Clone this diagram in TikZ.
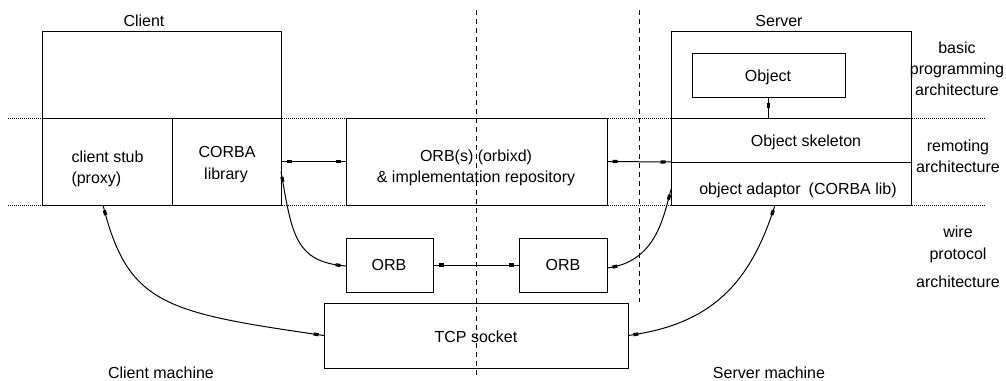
\documentclass[tikz,border=0pt]{standalone}
\usepackage{fontspec}
\setmainfont{Liberation Sans}
\usetikzlibrary{decorations.markings}

\begin{document}
\begin{tikzpicture}[x=1pt, y=-1pt, line width=1pt,
  box/.style={draw, line width=1pt, inner sep=0pt, outer sep=0pt, anchor=north west},
  lbl/.style={inner sep=0pt, anchor=base, font=\fontsize{16}{19}\selectfont},
  layerline/.style={line width=1pt, dash pattern=on 1pt off 1pt},
  divider/.style={line width=1pt, dash pattern=on 5pt off 4pt},
  blob/.style={},
  tagboth/.style={postaction={decorate}, decoration={markings,
     mark=at position 8pt with {\fill (-2.5pt,-1.6pt) rectangle (2.5pt,1.6pt);},
     mark=at position -8pt with {\fill (-2.5pt,-1.6pt) rectangle (2.5pt,1.6pt);}}},
  tagfirst/.style={postaction={decorate}, decoration={markings,
     mark=at position 8pt with {\fill (-2.5pt,-1.6pt) rectangle (2.5pt,1.6pt);}}}
]
\useasboundingbox (0,0) rectangle (1006,380);

% layer boundaries
\draw[layerline] (8,118) -- (985,118);
\draw[layerline] (8,205) -- (985,205);

% machine boundaries
\draw[divider] (476,10) -- (476,378);
\draw[divider] (639,10) -- (639,302);

% client side
\node[box, minimum width=239pt, minimum height=174pt] (client) at (42,31) {};
\node[box, minimum width=130pt, minimum height=87pt] (stub) at (42,118) {};
\node[box, minimum width=109pt, minimum height=87pt] (corba) at (172,118) {};

% middle
\node[box, minimum width=261pt, minimum height=87pt] (orbs) at (346,118) {};
\node[box, minimum width=87pt, minimum height=54pt] (orbl) at (346,238) {};
\node[box, minimum width=88pt, minimum height=54pt] (orbr) at (519,238) {};
\node[box, minimum width=304pt, minimum height=65pt] (tcp) at (324,303) {};

% server side
\node[box, minimum width=240pt, minimum height=174pt] (server) at (671,31) {};
\node[box, minimum width=153pt, minimum height=44pt] (object) at (692,53) {};
\node[box, minimum width=240pt, minimum height=44pt] (skeleton) at (671,118) {};
\node[box, minimum width=240pt, minimum height=43pt] (adaptor) at (671,162) {};

% texts
\node[lbl] (tclient) at (144,27) {Client};
\node[lbl] (tserver) at (779,27) {Server};
\node[lbl, anchor=base west] (tstub1) at (71,162) {client stub};
\node[lbl, anchor=base west] (tstub2) at (71,183) {(proxy)};
\node[lbl] (tcorba1) at (227,157) {CORBA};
\node[lbl] (tcorba2) at (226,179) {library};
\node[lbl] (torbs1) at (476,161) {ORB(s) (orbixd)};
\node[lbl] (torbs2) at (476,182) {\& implementation repository};
\node[lbl] (tobject) at (768,81) {Object};
\node[lbl] (tskel) at (806,146) {Object skeleton};
\node[lbl] (tadapt) at (798,194) {object adaptor\enspace(CORBA lib)};
\node[lbl] (torbl) at (389,270) {ORB};
\node[lbl] (torbr) at (563,270) {ORB};
\node[lbl] (ttcp) at (476,342) {TCP socket};
\node[lbl] (tcm) at (161,378) {Client machine};
\node[lbl] (tsm) at (769,378) {Server machine};
\node[lbl] (tbp1) at (957,53) {basic};
\node[lbl] (tbp2) at (957,74) {programming};
\node[lbl] (tbp3) at (957,95) {architecture};
\node[lbl] (tra1) at (958,151) {remoting};
\node[lbl] (tra2) at (958,172) {architecture};
\node[lbl] (twp1) at (958,237) {wire};
\node[lbl] (twp2) at (958,259) {protocol};
\node[lbl] (twp3) at (958,287) {architecture};

% connectors
\draw[tagboth] (corba.east) -- (orbs.west);
\draw[tagboth] (orbs.east) -- (adaptor.north west);
\draw[tagboth] (orbl.east) -- (orbr.west);
\draw[tagfirst] (object.south) -- (object.south |- skeleton.north);

\draw[tagboth] ([xshift=-4pt]stub.south) .. controls +(25,100) and +(-159,-23) .. (tcp.west);
\draw[tagboth] ([yshift=-10pt]corba.east) .. controls +(11,63) and +(-51,-4) .. ([yshift=-1pt]orbl.west);
\draw[tagboth] ([yshift=-3pt]orbr.east) .. controls +(48,-6) and +(-8,30) .. ([yshift=-6pt]adaptor.west);
\draw[tagboth] (tcp.east) .. controls +(82,-11) and +(-25,80) .. ([xshift=-16pt]adaptor.south);
\end{tikzpicture}
\end{document}
